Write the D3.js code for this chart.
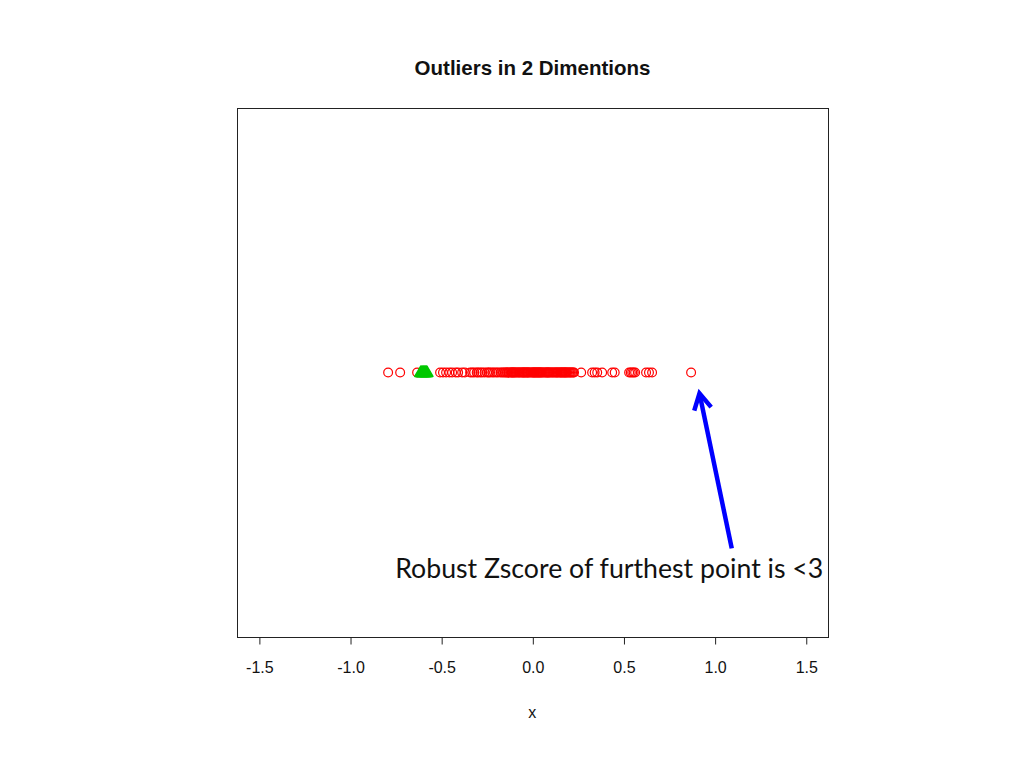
<!DOCTYPE html>
<html>
<head>
<meta charset="utf-8">
<script src="https://cdn.jsdelivr.net/npm/d3@7"></script>
<style>
  html, body { margin: 0; padding: 0; background: #fff; }
  svg { display: block; }
</style>
</head>
<body>
<svg id="chart" width="1024" height="768"></svg>
<script>
// ---- data ----
const chartTitle = "Outliers in 2 Dimentions";
const xLabel = "x";
const xTicks = [-1.5, -1.0, -0.5, 0.0, 0.5, 1.0, 1.5];
const xTickLabels = ["-1.5", "-1.0", "-0.5", "0.0", "0.5", "1.0", "1.5"];
// regular points (red open circles), all at y = 0
const pointsX = [
  -0.791, -0.725, -0.632,
  -0.506, -0.490, -0.473, -0.455, -0.440, -0.420, -0.407, -0.385, -0.370,
  -0.341, -0.330, -0.319, -0.305, -0.297, -0.285, -0.275, -0.262, -0.248,
  -0.240, -0.232, -0.220, -0.210, -0.198, -0.188, -0.175, -0.166, -0.158,
  -0.150, -0.144, -0.138, -0.133, -0.128, -0.122, -0.116, -0.112, -0.108,
  -0.104, -0.100, -0.095, -0.090, -0.084, -0.078, -0.073, -0.068, -0.062,
  -0.056, -0.052, -0.048, -0.044, -0.040, -0.035, -0.030, -0.026, -0.023,
  -0.018, -0.012, -0.006, 0.000, 0.004, 0.008, 0.012, 0.015, 0.020,
  0.024, 0.028, 0.032, 0.036, 0.040, 0.044, 0.048, 0.053, 0.058, 0.064,
  0.070, 0.075, 0.080, 0.084, 0.087, 0.092, 0.097, 0.103, 0.109, 0.114,
  0.120, 0.126, 0.131, 0.136, 0.140, 0.146, 0.152, 0.156, 0.160, 0.165,
  0.169, 0.174, 0.178, 0.182, 0.186, 0.191, 0.196, 0.202, 0.207, 0.212,
  0.218, 0.224, 0.229, 0.268, 0.328, 0.342, 0.356, 0.383, 0.438, 0.452,
  0.531, 0.540, 0.548, 0.556, 0.564, 0.624, 0.640, 0.657, 0.871
];
// flagged points (green filled triangles)
const outliersX = [-0.612, -0.607, -0.602, -0.598, -0.594, -0.590, -0.586, -0.582, -0.578];
const pointY = 0;
// annotation (data units)
const annoText = "Robust Zscore of furthest point is <3";
const arrowTip = [0.917, -0.079];
const arrowTail = [1.094, -0.665];
const textAnchor = [1.596, -0.777];

// ---- layout ----
const svg = d3.select("#chart");
const box = { left: 237, right: 828, top: 108, bottom: 637 };

const x = d3.scaleLinear().domain([-1.62, 1.622]).range([box.left, box.right]);
const y = d3.scaleLinear().domain([-1, 1]).range([box.bottom, box.top]);

// title
svg.append("text")
  .attr("x", (box.left + box.right) / 2)
  .attr("y", 75)
  .attr("text-anchor", "middle")
  .attr("font-family", "Liberation Sans, Arial, sans-serif")
  .attr("font-weight", "bold")
  .attr("font-size", 20.5)
  .attr("fill", "#111")
  .text(chartTitle);

// plot box
svg.append("rect")
  .attr("x", box.left + 0.5).attr("y", box.top + 0.5)
  .attr("width", box.right - box.left).attr("height", box.bottom - box.top)
  .attr("fill", "none").attr("stroke", "#222").attr("stroke-width", 1);

// x axis
const axis = svg.append("g")
  .attr("transform", `translate(0.5,${box.bottom + 0.5})`)
  .call(d3.axisBottom(x).tickValues(xTicks)
    .tickFormat((d, i) => xTickLabels[i])
    .tickSize(7).tickSizeOuter(0).tickPadding(17));
axis.select(".domain").remove();
axis.selectAll(".tick line").attr("stroke", "#222");
axis.selectAll(".tick text")
  .attr("font-family", "Liberation Sans, Arial, sans-serif")
  .attr("font-size", 16)
  .attr("fill", "#111");

svg.append("text")
  .attr("x", x(0))
  .attr("y", 718)
  .attr("text-anchor", "middle")
  .attr("font-family", "Liberation Sans, Arial, sans-serif")
  .attr("font-size", 16)
  .attr("fill", "#111")
  .text(xLabel);

// red circles
svg.append("g").selectAll("circle")
  .data(pointsX)
  .join("circle")
  .attr("cx", d => x(d))
  .attr("cy", y(pointY))
  .attr("r", 4.4)
  .attr("fill", "none")
  .attr("stroke", "#ff0000")
  .attr("stroke-width", 1.2);

// green triangles
svg.append("g").selectAll("path")
  .data(outliersX)
  .join("path")
  .attr("transform", d => `translate(${x(d)},${y(pointY) + 0.5})`)
  .attr("d", d3.symbol(d3.symbolTriangle, 62))
  .attr("fill", "#00c800")
  .attr("stroke", "#00c800")
  .attr("stroke-width", 1.5)
  .attr("stroke-linejoin", "round");

// arrow
const tip = [x(arrowTip[0]), y(arrowTip[1])];
const tail = [x(arrowTail[0]), y(arrowTail[1])];
svg.append("line")
  .attr("x1", tail[0]).attr("y1", tail[1])
  .attr("x2", tip[0]).attr("y2", tip[1])
  .attr("stroke", "#0000ff").attr("stroke-width", 4.5).attr("stroke-linecap", "butt");
const ang = Math.atan2(tail[1] - tip[1], tail[0] - tip[0]);
const headLen = 18, spread = 0.5;
const headPts = [
  [tip[0] + headLen * Math.cos(ang + spread), tip[1] + headLen * Math.sin(ang + spread)],
  tip,
  [tip[0] + headLen * Math.cos(ang - spread), tip[1] + headLen * Math.sin(ang - spread)]
];
svg.append("path")
  .attr("d", d3.line()(headPts))
  .attr("fill", "none")
  .attr("stroke", "#0000ff").attr("stroke-width", 4.5)
  .attr("stroke-linejoin", "miter").attr("stroke-linecap", "butt");

// annotation text
svg.append("text")
  .attr("x", x(textAnchor[0]))
  .attr("y", y(textAnchor[1]))
  .attr("text-anchor", "end")
  .attr("font-family", "Lato, 'Open Sans', sans-serif")
  .attr("font-size", 27)
  .attr("fill", "#111")
  .attr("textLength", 428)
  .attr("lengthAdjust", "spacingAndGlyphs")
  .text(annoText);
</script>
</body>
</html>
